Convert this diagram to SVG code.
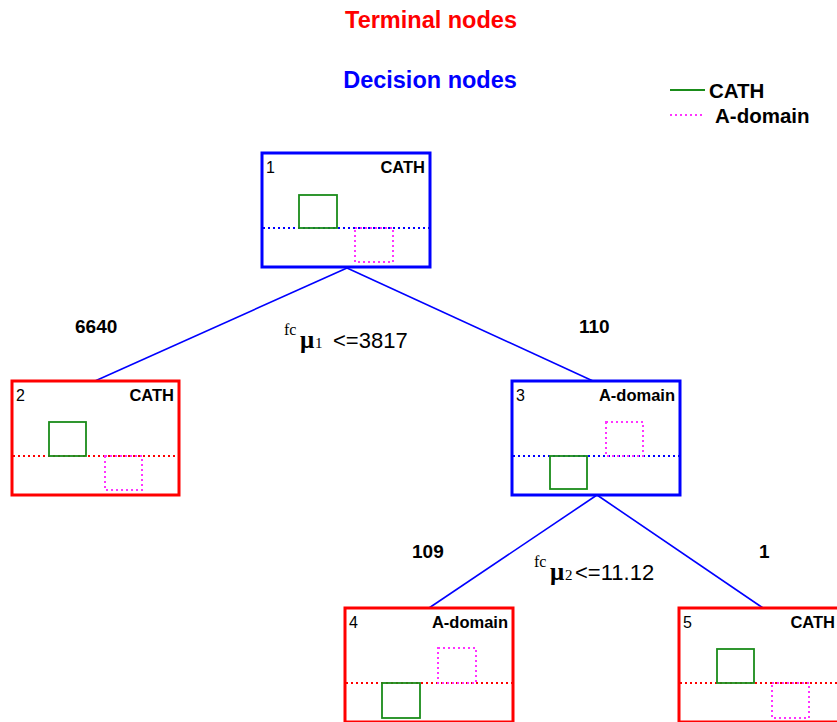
<svg xmlns="http://www.w3.org/2000/svg" width="837" height="722" viewBox="0 0 837 722">
<style>
.sans{font-family:"Liberation Sans",Arial,sans-serif}
.b{font-weight:bold}
.box{fill:#fff;stroke-width:3}
.term{stroke:#ff0000}
.dec{stroke:#0000ff}
.split{stroke-width:2;stroke-dasharray:2 3;fill:none}
.cath{fill:none;stroke:#1a8c1a;stroke-width:1.8}
.adom{fill:none;stroke:#ff33ff;stroke-width:2;stroke-dasharray:2 3}
.conn{stroke:#0000ff;stroke-width:1.6;fill:none}
.num{font-family:"Liberation Sans",Arial,sans-serif;font-size:16px}
.lab{font-family:"Liberation Sans",Arial,sans-serif;font-size:16.5px;font-weight:bold;text-anchor:end}
.edge{font-family:"Liberation Sans",Arial,sans-serif;font-size:19px;font-weight:bold}
.cond{font-family:"Liberation Sans",Arial,sans-serif;font-size:22px}
.ser{font-family:"Liberation Serif","Times New Roman",serif}
</style>
<rect width="837" height="722" fill="#fff"/>
<text x="431" y="28" class="sans b" font-size="23.5" fill="#ff0000" text-anchor="middle">Terminal nodes</text>
<text x="430" y="88" class="sans b" font-size="23.5" fill="#0000ff" text-anchor="middle">Decision nodes</text>
<g id="legend">
<line x1="670" y1="90" x2="705" y2="90" class="cath"/>
<text x="709" y="98" class="sans b" font-size="20.5">CATH</text>
<line x1="670" y1="115" x2="703" y2="115" class="adom"/>
<text x="715" y="123" class="sans b" font-size="20.5">A-domain</text>
</g>
<g id="connectors">
<line x1="347" y1="268" x2="95" y2="381" class="conn"/>
<line x1="347" y1="268" x2="593" y2="381" class="conn"/>
<line x1="597" y1="495" x2="429" y2="608" class="conn"/>
<line x1="597" y1="495" x2="763" y2="608" class="conn"/>
<text x="75" y="333" class="edge">6640</text>
<text x="579" y="333" class="edge">110</text>
<text x="412" y="558" class="edge">109</text>
<text x="759" y="558" class="edge">1</text>
<g class="cond">
<text x="284" y="335" class="ser" font-size="16">fc</text>
<text x="300" y="348" class="ser b" font-size="25">μ</text>
<text x="315" y="348" class="ser" font-size="15">1</text>
<text x="333" y="348">&lt;=3817</text>
<text x="534" y="567" class="ser" font-size="16">fc</text>
<text x="550" y="580" class="ser b" font-size="25">μ</text>
<text x="565" y="580" class="ser" font-size="15">2</text>
<text x="575" y="580">&lt;=11.12</text>
</g>
</g>
<g id="node1">
<rect x="262" y="153" width="168" height="114" class="box dec"/>
<line x1="263" y1="228" x2="429" y2="228" class="split dec"/>
<rect x="299" y="195" width="38" height="33" class="cath"/>
<rect x="355" y="228" width="38" height="34" class="adom"/>
<text x="266" y="173" class="num">1</text>
<text x="425" y="173" class="lab">CATH</text>
</g>
<g id="node2">
<rect x="12" y="381" width="167" height="114" class="box term"/>
<line x1="13" y1="456" x2="178" y2="456" class="split term"/>
<rect x="49" y="422" width="37" height="34" class="cath"/>
<rect x="105" y="456" width="37" height="34" class="adom"/>
<text x="16" y="401" class="num">2</text>
<text x="174" y="401" class="lab">CATH</text>
</g>
<g id="node3">
<rect x="512" y="381" width="168" height="114" class="box dec"/>
<line x1="513" y1="456" x2="679" y2="456" class="split dec"/>
<rect x="606" y="422" width="37" height="34" class="adom"/>
<rect x="550" y="456" width="37" height="33" class="cath"/>
<text x="516" y="401" class="num">3</text>
<text x="675" y="401" class="lab">A-domain</text>
</g>
<g id="node4">
<rect x="345" y="608" width="168" height="114" class="box term"/>
<line x1="346" y1="683" x2="512" y2="683" class="split term"/>
<rect x="438" y="648" width="38" height="35" class="adom"/>
<rect x="382" y="683" width="38" height="35" class="cath"/>
<text x="349" y="628" class="num">4</text>
<text x="508" y="628" class="lab">A-domain</text>
</g>
<g id="node5">
<rect x="679" y="608" width="168" height="114" class="box term"/>
<line x1="680" y1="683" x2="846" y2="683" class="split term"/>
<rect x="717" y="649" width="37" height="34" class="cath"/>
<rect x="772" y="683" width="37" height="35" class="adom"/>
<text x="683" y="628" class="num">5</text>
<text x="835" y="628" class="lab">CATH</text>
</g>
</svg>
